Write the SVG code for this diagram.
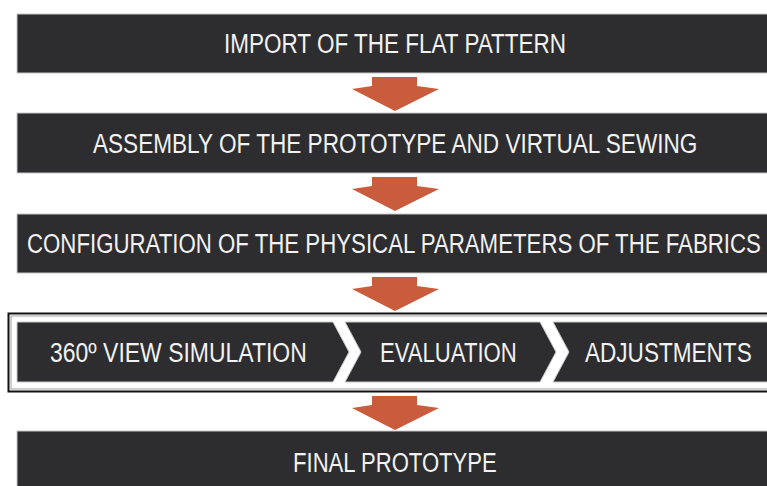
<svg xmlns="http://www.w3.org/2000/svg" width="767" height="486" viewBox="0 0 767 486">
  <style>
    .box { fill: #2d2d2f; stroke: #c8c8c8; stroke-width: 1; }
    .lbl { font-family: "Liberation Sans", Arial, sans-serif; font-size: 28px; fill: #f2f2f2; }
    .arr { fill: #c85c3c; }
  </style>
  <defs>
    <path id="downArrow" class="arr" d="M-23,0 H22 V9 L44,12 L0,34 L-43,12 L-23,9 Z"/>
  </defs>
  <rect width="767" height="486" fill="#ffffff"/>

  <g id="n1">
    <rect class="box" x="17" y="14" width="751" height="59"/>
    <text class="lbl" transform="translate(224,53) scale(0.79,1)" textLength="433" lengthAdjust="spacingAndGlyphs">IMPORT OF THE FLAT PATTERN</text>
  </g>
  <g id="n2">
    <rect class="box" x="17" y="113" width="751" height="60"/>
    <text class="lbl" transform="translate(93,153) scale(0.79,1)" textLength="765" lengthAdjust="spacingAndGlyphs">ASSEMBLY OF THE PROTOTYPE AND VIRTUAL SEWING</text>
  </g>
  <g id="n3">
    <rect class="box" x="17" y="214" width="751" height="59"/>
    <text class="lbl" transform="translate(27,253) scale(0.79,1)" textLength="929" lengthAdjust="spacingAndGlyphs">CONFIGURATION OF THE PHYSICAL PARAMETERS OF THE FABRICS</text>
  </g>
  <g id="frame">
    <rect x="8.5" y="313.5" width="760" height="78" fill="#ffffff" stroke="#111111" stroke-width="2"/>
    <rect x="11" y="316" width="758" height="73" fill="none" stroke="#a0a0a0" stroke-width="1"/>
  </g>
  <g id="n4">
    <polygon class="box" points="17,322 333,322 349,352 333,382 17,382"/>
    <text class="lbl" transform="translate(50,362) scale(0.79,1)" textLength="325" lengthAdjust="spacingAndGlyphs">360º VIEW SIMULATION</text>
  </g>
  <g id="n5">
    <polygon class="box" points="345,322 540,322 556,352 540,382 345,382 361,352"/>
    <text class="lbl" transform="translate(380,362) scale(0.79,1)" textLength="173" lengthAdjust="spacingAndGlyphs">EVALUATION</text>
  </g>
  <g id="n6">
    <polygon class="box" points="553,322 768,322 768,382 553,382 569,352"/>
    <text class="lbl" transform="translate(585,362) scale(0.79,1)" textLength="211" lengthAdjust="spacingAndGlyphs">ADJUSTMENTS</text>
  </g>
  <g id="n7">
    <rect class="box" x="17" y="431" width="751" height="56"/>
    <text class="lbl" transform="translate(293,472) scale(0.79,1)" textLength="258" lengthAdjust="spacingAndGlyphs">FINAL PROTOTYPE</text>
  </g>

  <g id="connectors">
    <use href="#downArrow" x="395" y="77"/>
    <use href="#downArrow" x="395" y="177"/>
    <use href="#downArrow" x="395" y="277"/>
    <use href="#downArrow" x="395" y="396"/>
  </g>
</svg>
